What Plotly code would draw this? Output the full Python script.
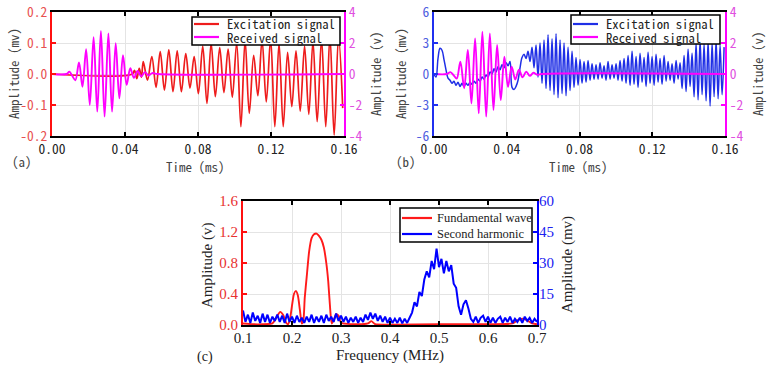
import plotly.graph_objects as go

# ---------------- Panel (a) ----------------
exc_a_t = [0.0000, 0.0440, 0.0452, 0.0465, 0.0478, 0.0490, 0.0500, 0.0523, 0.0547, 0.0570,
           0.0593, 0.0616, 0.0640, 0.0663, 0.0686, 0.0709, 0.0733, 0.0756, 0.0779, 0.0802,
           0.0826, 0.0849, 0.0872, 0.0895, 0.0919, 0.0942, 0.0965, 0.0988, 0.1012, 0.1035,
           0.1058, 0.1081, 0.1105, 0.1128, 0.1151, 0.1174, 0.1198, 0.1221, 0.1244, 0.1267,
           0.1291, 0.1314, 0.1337, 0.1360, 0.1384, 0.1407, 0.1430, 0.1453, 0.1477, 0.1500,
           0.1523, 0.1546, 0.1570, 0.1593]
exc_a_v = [0.000, 0.000, 0.012, -0.015, 0.018, -0.010, 0.040, -0.020, 0.056, -0.043,
           0.072, -0.052, 0.078, -0.057, 0.075, -0.057, 0.066, -0.045, 0.056, -0.063,
           0.090, -0.095, 0.100, -0.073, 0.085, -0.060, 0.080, -0.075, 0.100, -0.170,
           0.110, -0.127, 0.060, -0.070, 0.110, -0.090, 0.115, -0.170, 0.100, -0.170,
           0.070, -0.105, 0.075, -0.120, 0.090, -0.130, 0.105, -0.154, 0.115, -0.170,
           0.125, -0.197, 0.120, -0.110]

rec_a_t = [0.0000, 0.0080, 0.0095, 0.0110, 0.0128, 0.0148, 0.0167, 0.0187, 0.0207, 0.0228,
           0.0248, 0.0268, 0.0288, 0.0309, 0.0329, 0.0349, 0.0369, 0.0389, 0.0409, 0.0429,
           0.0449, 0.0469, 0.0489, 0.0509, 0.0529, 0.0549, 0.0580, 0.1600]
rec_a_v = [0.00, 0.00, 0.15, -0.10, -0.40, 0.75, -0.82, 1.60, -2.00, 2.37,
           -2.43, 2.77, -2.75, 2.62, -2.43, 1.98, -1.57, 1.22, -0.70, 0.37,
           -0.25, 0.20, -0.15, 0.12, -0.10, 0.06, 0.00, 0.00]

# ---------------- Panel (b) ----------------
exc_b_dt = 0.0011  # sampling interval (ms)
exc_b_v = [0.0, -0.3, 1.5, 2.5, 2.3, 1.4, 0.4, -0.4, -0.6, -0.9,
           -0.7, -1.1, -0.8, -1.2, -0.9, -1.2, -0.9, -1.1, -0.8, -1.0,
           -0.7, -0.9, -0.5, -0.7, -0.3, -0.5, -0.1, -0.3, 0.2, 0.0,
           0.5, 0.2, 0.7, 0.4, 0.9, 0.6, 1.1, 0.8, 1.2, -1.3,
           -1.5, -1.2, -0.6, 0.6, 1.6, 1.9, 1.5, 2.2, 1.2, 2.6,
           0.6, 2.8, -0.3, 3.0, -0.9, 3.3, -1.4, 3.8, -1.6, 3.4,
           -2.0, 3.9, -2.3, 3.3, -1.9, 3.0, -2.1, 2.6, -1.6, 2.2,
           -1.3, 1.6, -1.1, 1.4, -0.9, 1.2, -0.8, 1.3, -0.6, 1.0,
           -0.5, 0.9, -0.5, 1.1, -0.4, 0.8, -0.6, 1.2, -0.5, 0.9,
           -0.4, 1.0, -0.6, 1.3, -0.7, 1.5, -0.9, 1.8, -1.1, 2.2,
           -1.0, 1.7, -1.3, 2.0, -0.8, 1.6, -1.2, 2.1, -0.9, 1.7,
           -1.1, 1.9, -0.8, 1.5, -1.0, 1.8, -0.7, 1.2, -0.6, 1.0,
           -0.9, 1.3, -0.5, 1.1, -1.4, 1.8, -1.7, 2.4, -1.2, 2.0,
           -2.2, 3.0, -2.5, 3.3, -2.0, 2.9, -2.6, 3.2, -3.1, 3.0,
           -2.2, 3.3, -2.4, 2.8, -2.0, 2.6]

rec_b_t = [0.0000, 0.0070, 0.0090, 0.0108, 0.0125, 0.0145, 0.0166, 0.0186, 0.0206, 0.0226,
           0.0246, 0.0266, 0.0287, 0.0307, 0.0327, 0.0347, 0.0367, 0.0387, 0.0407, 0.0427,
           0.0447, 0.0467, 0.0487, 0.0507, 0.0527, 0.0547, 0.0567, 0.0590, 0.1600]
rec_b_v = [0.00, 0.00, 0.12, -0.08, -0.30, 0.80, -0.92, 1.55, -1.90, 2.30,
           -2.54, 2.73, -2.75, 2.62, -2.32, 1.87, -1.68, 1.12, -0.82, 0.47,
           -0.35, 0.28, -0.22, 0.15, -0.12, 0.08, -0.05, 0.00, 0.00]

# ---------------- Panel (c) ----------------
fund_f = [0.100, 0.120, 0.140, 0.160, 0.165, 0.170, 0.176, 0.182, 0.188, 0.192,
          0.196, 0.200, 0.204, 0.208, 0.212, 0.216, 0.220, 0.223, 0.226, 0.230,
          0.235, 0.240, 0.245, 0.250, 0.255, 0.260, 0.265, 0.270, 0.274, 0.278,
          0.281, 0.285, 0.290, 0.295, 0.300, 0.330, 0.355, 0.362, 0.370, 0.400,
          0.500, 0.600, 0.650, 0.660, 0.670, 0.680, 0.690, 0.700]
fund_v = [0.02, 0.01, 0.01, 0.02, 0.06, 0.12, 0.17, 0.13, 0.03, 0.01,
          0.08, 0.25, 0.40, 0.44, 0.38, 0.20, 0.02, 0.05, 0.35, 0.62,
          0.95, 1.12, 1.17, 1.18, 1.15, 1.10, 1.00, 0.80, 0.56, 0.20,
          0.02, 0.06, 0.14, 0.12, 0.03, 0.01, 0.02, 0.05, 0.01, 0.005,
          0.01, 0.01, 0.02, 0.06, 0.08, 0.06, 0.02, 0.01]

harm_f0 = 0.100
harm_df = 0.005
harm_v = [7, 1.5, 5, 1, 6, 2, 4.5, 1, 5.5, 1.5,
          5, 1, 4, 2, 5, 1.5, 4.5, 1, 5.5, 1.5,
          4, 1, 4.5, 1.5, 3.5, 1, 4, 1.5, 5, 1,
          4, 1.5, 4.5, 1, 5, 2, 4, 1.5, 5.5, 2,
          4.5, 1.5, 4, 1, 3.5, 1.5, 4, 1, 3.5, 1.5,
          5, 2.5, 6, 3, 5.5, 2, 4.5, 1.5, 4, 1,
          3.5, 1, 3, 1, 3.5, 0.8, 3, 1, 3.5, 6,
          11, 9, 16, 14, 22, 26, 23, 31, 27, 37,
          28, 32, 25, 31, 26, 29, 20, 18, 9, 5,
          10, 12, 8, 3, 1.5, 4, 1, 3.5, 4.5, 1.5,
          4, 1, 3.5, 1, 3, 4, 1, 3.5, 1.5, 4,
          1, 3, 1.5, 3.5, 1, 4, 2, 3.5, 1, 3,
          1.5]

time_ticks = [0.00, 0.04, 0.08, 0.12, 0.16]
time_ticktext = ["0.00", "0.04", "0.08", "0.12", "0.16"]
a_left_ticks = [-0.2, -0.1, 0.0, 0.1, 0.2]
a_left_text = ["-0.2", "-0.1", "0.0", "0.1", "0.2"]
rec_ticks = [-4, -2, 0, 2, 4]
rec_text = ["-4", "-2", "0", "2", "4"]
b_left_ticks = [-6, -3, 0, 3, 6]
b_left_text = ["-6", "-3", "0", "3", "6"]
freq_ticks = [0.1, 0.2, 0.3, 0.4, 0.5, 0.6, 0.7]
freq_text = ["0.1", "0.2", "0.3", "0.4", "0.5", "0.6", "0.7"]
c_left_ticks = [0.0, 0.4, 0.8, 1.2, 1.6]
c_left_text = ["0.0", "0.4", "0.8", "1.2", "1.6"]
c_right_ticks = [0, 15, 30, 45, 60]
c_right_text = ["0", "15", "30", "45", "60"]

# derived x for uniformly sampled series
exc_b_t = [i * exc_b_dt for i in range(len(exc_b_v))]
harm_f = [harm_f0 + i * harm_df for i in range(len(harm_v))]

RED = "#ee1c1c"
MAG = "#ff00ff"
BLUE_B = "#1f2fe6"
RED_C = "#ff1a1a"
BLUE_C = "#0000ff"
GRID = "#e4e4e4"
MONO = "Noto Sans Mono CJK SC, Liberation Mono, monospace"
SERIF = "Liberation Serif"

fig = go.Figure()
fig.add_trace(go.Scatter(x=exc_a_t, y=exc_a_v, mode="lines", name="Excitation signal",
                         line=dict(color=RED, width=1.7, shape="spline"),
                         xaxis="x", yaxis="y"))
fig.add_trace(go.Scatter(x=rec_a_t, y=rec_a_v, mode="lines", name="Received signal",
                         line=dict(color=MAG, width=1.9, shape="spline"),
                         xaxis="x", yaxis="y2"))
fig.add_trace(go.Scatter(x=exc_b_t, y=exc_b_v, mode="lines", name="Excitation signal",
                         line=dict(color=BLUE_B, width=1.5, shape="spline"),
                         xaxis="x2", yaxis="y3"))
fig.add_trace(go.Scatter(x=rec_b_t, y=rec_b_v, mode="lines", name="Received signal",
                         line=dict(color=MAG, width=1.9, shape="spline"),
                         xaxis="x2", yaxis="y4"))
fig.add_trace(go.Scatter(x=fund_f, y=fund_v, mode="lines", name="Fundamental wave",
                         line=dict(color=RED_C, width=1.9, shape="spline", smoothing=0.6),
                         xaxis="x3", yaxis="y5"))
fig.add_trace(go.Scatter(x=harm_f, y=harm_v, mode="lines", name="Second harmonic",
                         line=dict(color=BLUE_C, width=2.0),
                         xaxis="x3", yaxis="y6"))

W, H = 767, 365


def PX(x):
    return x / W


def PY(y):
    return 1 - y / H


def xax(domain, anchor, rng, tv, tt, fam, size, standoff):
    return dict(domain=domain, anchor=anchor, range=rng, tickvals=tv, ticktext=tt,
                showline=True, linecolor="black", linewidth=2, mirror="ticks",
                ticks="inside", ticklen=4, tickcolor="black", tickwidth=1.5,
                showgrid=True, gridcolor=GRID, gridwidth=1, zeroline=False,
                ticklabelstandoff=standoff,
                tickfont=dict(family=fam, size=size, color="#222"), automargin=False)


def yax(domain, anchor, rng, tv, tt, color, tcolor, fam, size, standoff=0,
        side="left", overlay=None, grid=True):
    d = dict(domain=domain, anchor=anchor, range=rng, tickvals=tv, ticktext=tt, side=side,
             showline=True, linecolor=color, linewidth=2, ticks="inside", ticklen=4,
             tickcolor=color, tickwidth=1.5, showgrid=grid, gridcolor=GRID, gridwidth=1,
             zeroline=False, ticklabelstandoff=standoff,
             tickfont=dict(family=fam, size=size, color=tcolor), automargin=False)
    if overlay:
        d["overlaying"] = overlay
    return d


dom_a_x = [PX(52), PX(344)]
dom_b_x = [PX(434), PX(725)]
dom_ab_y = [PY(136), PY(12)]
dom_c_x = [PX(243), PX(537)]
dom_c_y = [PY(325), PY(201)]

annotations = []
shapes = []


def text(t, x, y, fam, size, color, angle=0, xanchor="center"):
    annotations.append(dict(text=t, x=PX(x), y=PY(y), xref="paper", yref="paper",
                            showarrow=False, textangle=angle, xanchor=xanchor, yanchor="middle",
                            font=dict(family=fam, size=size, color=color)))


def legend_box(x0, x1, y0, y1, rows, fam, size, lx0, lx1, tx):
    shapes.append(dict(type="rect", xref="paper", yref="paper", x0=PX(x0), x1=PX(x1),
                       y0=PY(y1), y1=PY(y0), fillcolor="white",
                       line=dict(color="black", width=1.5), layer="above"))
    for (label, color, yy) in rows:
        shapes.append(dict(type="line", xref="paper", yref="paper", x0=PX(lx0), x1=PX(lx1),
                           y0=PY(yy), y1=PY(yy), line=dict(color=color, width=2.2), layer="above"))
        text(label, tx, yy, fam, size, "#222", xanchor="left")


TS = 13.5  # tick label size for (a), (b)

# axis titles
text("Amplitude (mv)", 13, 74, MONO, 13, "#444", angle=-90)
text("Amplitude (v)", 375, 74, MONO, 13, "#444", angle=-90)
text("Time (ms)", 195, 166, MONO, 13, "#444")
text("Amplitude (mv)", 400, 74, MONO, 13, "#444", angle=-90)
text("Amplitude (v)", 757, 74, MONO, 13, "#444", angle=-90)
text("Time (ms)", 578, 166, MONO, 13, "#444")
text("Amplitude (v)", 207, 265, SERIF, 15, "#222", angle=-90)
text("Amplitude (mv)", 567, 265, SERIF, 15, "#222", angle=-90)
text("Frequency (MHz)", 390, 355, SERIF, 15, "#222")
# panel labels
text("(a)", 22, 161, MONO, 13, "#444")
text("(b)", 406, 161, MONO, 13, "#444")
text("(c)", 205, 357, SERIF, 14, "#222")

# legends
legend_box(192, 340, 17, 45, [("Excitation signal", RED, 24), ("Received signal", MAG, 37)],
           MONO, 12.7, 194, 219, 225)
legend_box(571, 720, 15, 44, [("Excitation signal", BLUE_B, 24), ("Received signal", MAG, 37)],
           MONO, 12.7, 573, 598, 604)
legend_box(400, 532, 208, 242, [("Fundamental wave", RED_C, 218), ("Second harmonic", BLUE_C, 234)],
           SERIF, 12.5, 402, 432, 435)

fig.update_layout(
    width=W, height=H, margin=dict(l=0, r=0, t=0, b=0),
    paper_bgcolor="white", plot_bgcolor="white", showlegend=False,
    xaxis=xax(dom_a_x, "y", [0, 0.16], time_ticks, time_ticktext, MONO, TS, 0),
    yaxis=yax(dom_ab_y, "x", [-0.2, 0.2], a_left_ticks, a_left_text, "#ff1010", "#e85050", MONO, TS),
    yaxis2=yax(dom_ab_y, "x", [-4, 4], rec_ticks, rec_text, MAG, "#e050e0", MONO, TS,
               side="right", overlay="y", grid=False),
    xaxis2=xax(dom_b_x, "y3", [0, 0.16], time_ticks, time_ticktext, MONO, TS, 0),
    yaxis3=yax(dom_ab_y, "x2", [-6, 6], b_left_ticks, b_left_text, "#2030f0", "#5060e0", MONO, TS),
    yaxis4=yax(dom_ab_y, "x2", [-4, 4], rec_ticks, rec_text, MAG, "#e050e0", MONO, TS,
               side="right", overlay="y3", grid=False),
    xaxis3=xax(dom_c_x, "y5", [0.1, 0.7], freq_ticks, freq_text, SERIF, 15, -2),
    yaxis5=yax(dom_c_y, "x3", [0, 1.6], c_left_ticks, c_left_text, "#ff1010", "#e83030", SERIF, 15),
    yaxis6=yax(dom_c_y, "x3", [0, 60], c_right_ticks, c_right_text, BLUE_C, "#2020f0", SERIF, 15,
               standoff=-3, side="right", overlay="y5", grid=False),
    annotations=annotations,
    shapes=shapes,
)

# the page body normally has an 8 px margin; remove it so the 767x365 chart fills the window
fig.write_html("out.html", config={"displayModeBar": False},
               post_script="document.body.style.margin='0px';document.body.style.overflow='hidden';")
